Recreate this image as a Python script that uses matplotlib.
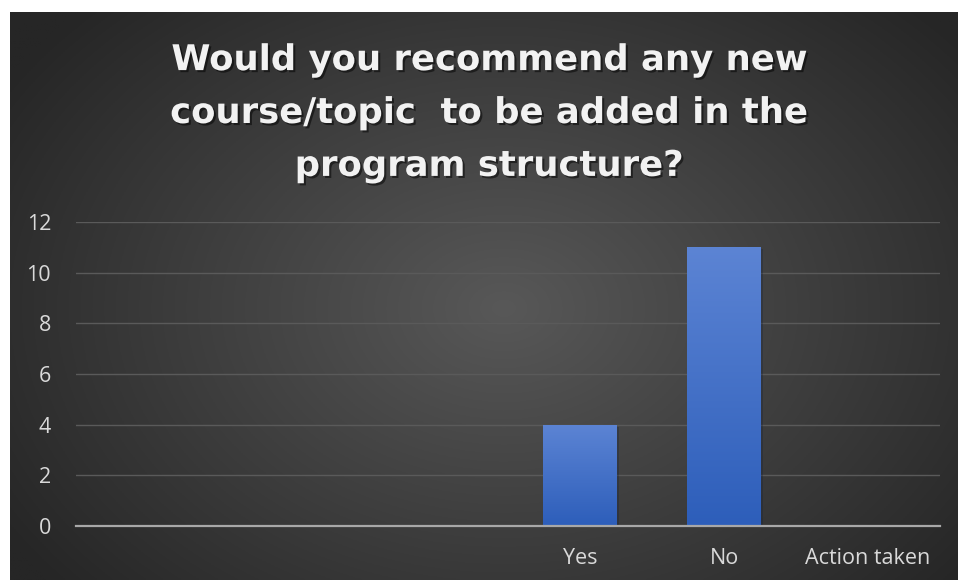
import numpy as np
import matplotlib
matplotlib.use("Agg")
import matplotlib.pyplot as plt
from matplotlib import patheffects as pe
from matplotlib.colors import LinearSegmentedColormap

categories = ["", "", "", "Yes", "No", "Action taken"]
values = [0, 0, 0, 4, 11, 0]
y_ticks = [0, 2, 4, 6, 8, 10, 12]
title = "Would you recommend any new\ncourse/topic  to be added in the\nprogram structure?"

W, H = 958, 580
fig = plt.figure(figsize=(W / 100, H / 100), dpi=100, facecolor="white")

# background radial gradient panel
bg = fig.add_axes([10 / W, 0, 948 / W, 568 / H])
bg.set_axis_off()
ny, nx = 300, 500
yy, xx = np.mgrid[0:ny, 0:nx]
cx, cy = 0.52 * nx, 0.52 * ny
d = np.sqrt(((xx - cx) / (0.62 * nx)) ** 2 + ((yy - cy) / (0.75 * ny)) ** 2)
d = np.clip(d, 0, 1)
inner = np.array([0x58, 0x58, 0x58]) / 255
outer = np.array([0x26, 0x26, 0x26]) / 255
img = inner[None, None, :] * (1 - d[..., None]) + outer[None, None, :] * d[..., None]
bg.imshow(img, extent=[0, 1, 0, 1], aspect="auto", origin="upper")
bg.set_xlim(0, 1)
bg.set_ylim(0, 1)

# main axes
ax = fig.add_axes([76 / W, 54 / H, 864 / W, 304 / H])
ax.patch.set_alpha(0)
x = np.arange(len(categories))
bars = ax.bar(x, values, width=0.51, color="#3f6cc6", zorder=3,
              path_effects=[pe.SimplePatchShadow(offset=(1.5, -1.5), alpha=0.3), pe.Normal()])

cmap = LinearSegmentedColormap.from_list("barg", ["#2d5eba", "#5c84d4"])
grad = np.linspace(0, 1, 256).reshape(-1, 1)
for b, v in zip(bars, values):
    if v <= 0:
        continue
    x0 = b.get_x()
    im = ax.imshow(grad, extent=[x0, x0 + b.get_width(), 0, v], origin="lower",
                   aspect="auto", cmap=cmap, zorder=4)
    im.set_clip_path(b)

ax.set_xlim(-0.5, len(categories) - 0.5)
ax.set_ylim(0, 12)
ax.set_yticks(y_ticks)
ax.set_xticks(x)
ax.set_xticklabels(categories)
ax.grid(axis="y", color="#5a5a5a", linewidth=1, zorder=0)
ax.set_axisbelow(True)
for s in ["top", "right", "left"]:
    ax.spines[s].set_visible(False)
ax.spines["bottom"].set_color("#a8a8a8")
ax.spines["bottom"].set_linewidth(1.6)
ax.spines["bottom"].set_zorder(5)
ax.tick_params(axis="both", length=0, colors="#d9d9d9", labelsize=15.5)
ax.tick_params(axis="y", pad=18)
ax.tick_params(axis="x", pad=16)
for lab in ax.get_xticklabels() + ax.get_yticklabels():
    lab.set_fontfamily("Open Sans")

fig.text(489 / W, 1 - 113 / H, title, ha="center", va="center",
         fontsize=25.5, fontweight="bold", family="DejaVu Sans", color="#f2f2f2",
         linespacing=1.7,
         path_effects=[pe.withSimplePatchShadow(offset=(1.5, -1.5), shadow_rgbFace="black", alpha=0.5)])

fig.savefig("out.png", dpi=100, facecolor="white")
